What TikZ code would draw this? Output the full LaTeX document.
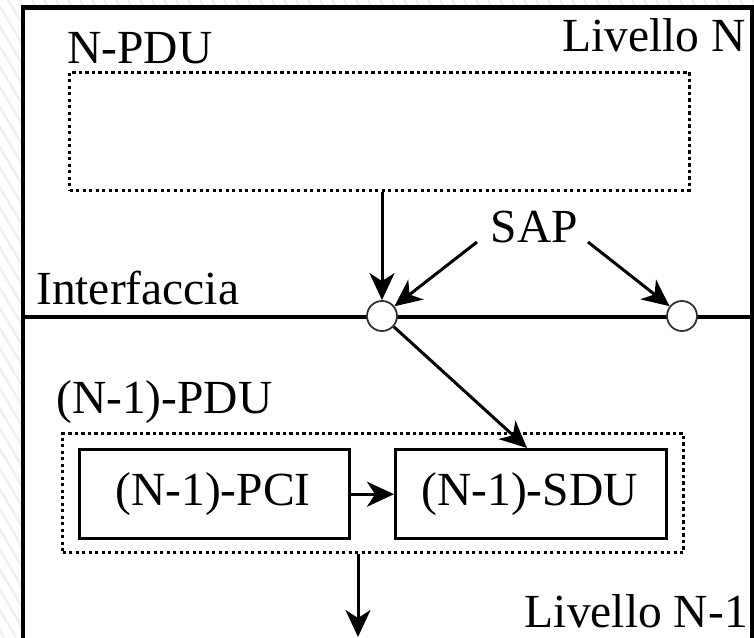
\documentclass[tikz,border=0pt]{standalone}
\usepackage{fontspec}
\setmainfont{Liberation Serif}
\usetikzlibrary{arrows.meta}
\begin{document}
\begin{tikzpicture}[x=1pt,y=-1pt,
  lbl/.style={inner sep=0pt, font=\fontsize{47.5}{52}\selectfont},
  pdubox/.style={draw, line width=3.2pt, dash pattern=on 3.2pt off 3.3pt},
  infobox/.style={draw, line width=3.4pt, inner sep=0pt},
  sapnode/.style={circle, draw=black!80, line width=1.8pt, fill=white, minimum size=30pt, inner sep=0pt},
  arr/.style={line width=3pt, -{Stealth[length=27pt, width=25pt, inset=8pt]}},
  link/.style={line width=3pt}]
\useasboundingbox (0,0) rectangle (754,637);
% faint hatching behind the layers
\begin{scope}
  \clip (0,0) rectangle (754,637);
  \foreach \k in {-400,-388,...,760}
    \draw[black!6, line width=2.5pt] (\k,0) -- (\k+380,637);
\end{scope}
% layer frame
\filldraw[fill=white, draw=black, line width=4.2pt] (23,7.5) rectangle (752.5,680);
% interface between the layers
\coordinate (ifl) at (23,317);
\coordinate (ifr) at (752.5,317);
\draw[line width=4pt] (ifl) -- (ifr);

% layer N
\node[lbl, anchor=base west] (npdu) at (67,63) {N-PDU};
\node[lbl, anchor=base east] (livn) at (746,51) {Livello N};
\node[pdubox, minimum width=620pt, minimum height=118pt, anchor=north west] (nbox) at (68,70.5) {};
\node[lbl, anchor=base] (sap) at (534.5,242) {SAP};
\node[lbl, anchor=base west] (intf) at (36,304) {Interfaccia};

% service access points
\node[sapnode] (c1) at (382,316) {};
\node[sapnode] (c2) at (682,316) {};

% layer N-1
\node[lbl, anchor=base west] (n1pdu) at (56,413) {(N-1)-PDU};
\node[pdubox, minimum width=621pt, minimum height=119pt, anchor=north west] (n1box) at (61,432) {};
\node[infobox, minimum width=270pt, minimum height=89pt, anchor=north west] (pci) at (78,448) {};
\node[lbl, anchor=base] (pcit) at (213,505) {(N-1)-PCI};
\node[infobox, minimum width=271pt, minimum height=89pt, anchor=north west] (sdu) at (394,448) {};
\node[lbl, anchor=base] (sdut) at (529.5,505) {(N-1)-SDU};
\node[lbl, anchor=base east] (livn1) at (748,627) {Livello N-1};

% connectors
\coordinate (sapl) at (477,242);
\coordinate (sapr) at (588,242);
\coordinate (sdutop) at (527,448);
\coordinate (down) at (358,637);
\draw[arr] (nbox.south -| c1) -- (c1.north);
\draw[arr] (sapl) -- (c1);
\draw[arr] (sapr) -- (c2);
\draw[arr] (c1) -- (sdutop);
\draw[arr] (pci.east) -- (sdu.west);
\draw[arr] (n1box.south -| down) -- (down);
\end{tikzpicture}
\end{document}
